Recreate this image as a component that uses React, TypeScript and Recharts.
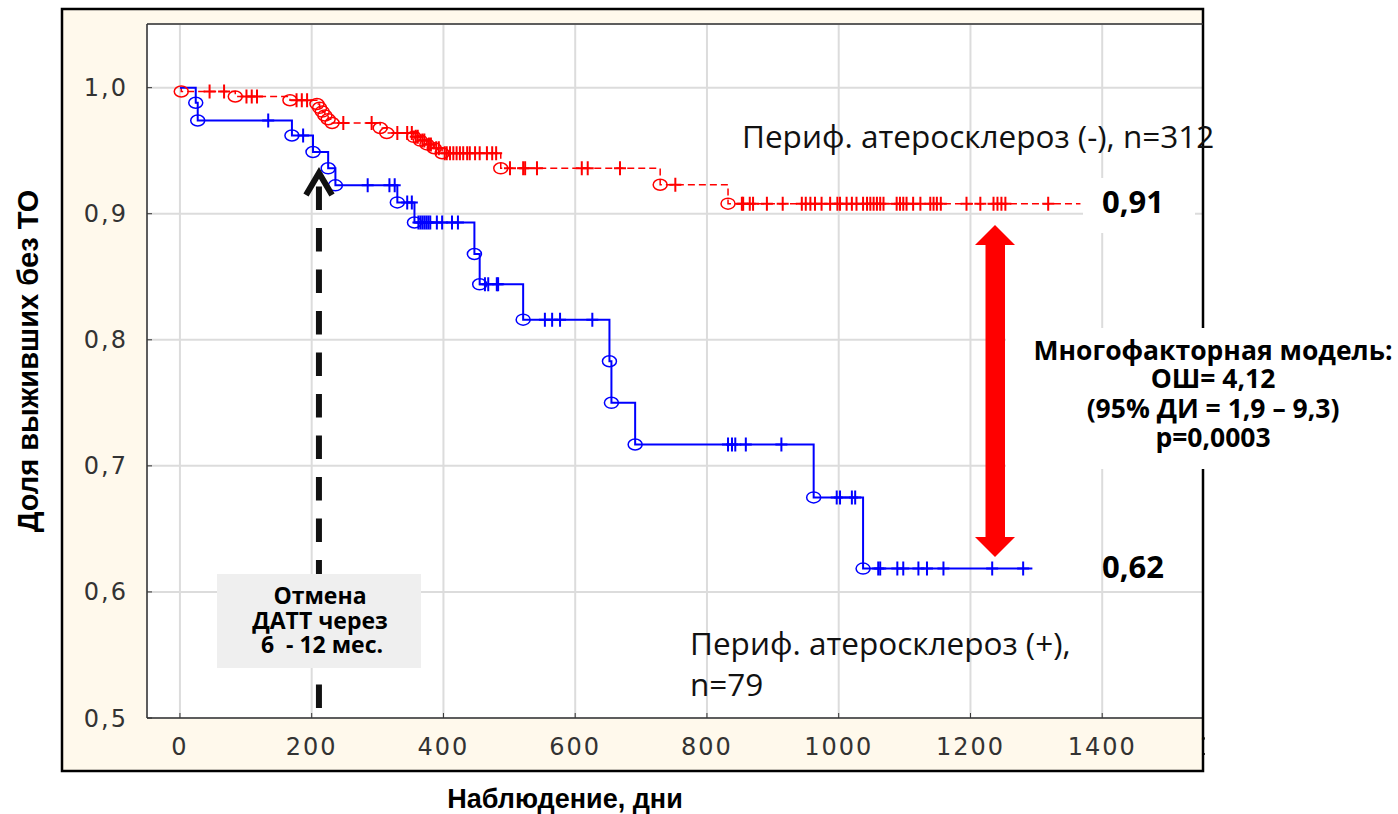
import { ComposedChart, Line, Scatter, XAxis, YAxis, CartesianGrid, ReferenceLine } from 'recharts'

const xTicks = [0, 200, 400, 600, 800, 1000, 1200, 1400, 1600]
const yTicks = [0.5, 0.6, 0.7, 0.8, 0.9, 1.0]

// Периф. атеросклероз (-), n=312 — events (day, survival after event)
const negEventDays = [2, 84, 167, 208, 212, 216, 220, 225, 231, 304, 314, 355, 365, 375, 386, 398, 487, 729, 832]
const negEventSurv = [0.997, 0.993, 0.99, 0.987, 0.984, 0.981, 0.978, 0.975, 0.972, 0.968, 0.964, 0.961, 0.958, 0.955, 0.952, 0.948, 0.936, 0.923, 0.908]
const negCensorDays = [
  45, 67, 101, 109, 117, 177, 185, 193, 248, 291, 330, 345, 352, 358, 361, 368, 371, 378, 381, 389, 393, 402, 405,
  410, 415, 420, 425, 430, 436, 440, 448, 455, 466, 474, 480, 501, 521, 524, 542, 610, 619, 668, 752, 853, 855, 865,
  870, 891, 915, 944, 950, 957, 964, 974, 987, 998, 1002, 1012, 1020, 1027, 1037, 1043, 1048, 1053, 1058, 1063,
  1068, 1088, 1093, 1098, 1103, 1113, 1124, 1139, 1144, 1149, 1155, 1194, 1215, 1235, 1241, 1247, 1253, 1318,
]
const negLastDay = 1367

// Периф. атеросклероз (+), n=79
const posEventDays = [24, 27, 170, 202, 225, 236, 330, 356, 447, 455, 521, 652, 655, 691, 962, 1037]
const posEventSurv = [0.988, 0.974, 0.962, 0.949, 0.936, 0.9225, 0.909, 0.893, 0.868, 0.844, 0.816, 0.783, 0.75, 0.717, 0.675, 0.6185]
const posCensorDays = [
  134, 187, 285, 318, 326, 345, 352, 362, 365, 368, 371, 374, 377, 380, 390, 398, 413, 422, 463, 468, 481, 483, 554,
  565, 577, 626, 832, 838, 843, 859, 913, 997, 1002, 1020, 1025, 1060, 1063, 1089, 1098, 1121, 1134, 1159, 1233, 1280,
]
const posLastDay = 1294

const RED = '#ff0000'
const BLUE = '#0000ff'

function survAt(days: number[], surv: number[], t: number) {
  let s = 1
  days.forEach((d, i) => {
    if (d <= t) s = surv[i]
  })
  return s
}

function steps(days: number[], surv: number[], last: number) {
  return [{ d: 0, s: 1 }, ...days.map((d, i) => ({ d, s: surv[i] })), { d: last, s: surv[surv.length - 1] }]
}

const negSteps = steps(negEventDays, negEventSurv, negLastDay)
const posSteps = steps(posEventDays, posEventSurv, posLastDay)
const negEvents = negEventDays.map((d, i) => ({ d, s: negEventSurv[i] }))
const posEvents = posEventDays.map((d, i) => ({ d, s: posEventSurv[i] }))
const negCensored = negCensorDays.map((d) => ({ d, s: survAt(negEventDays, negEventSurv, d) }))
const posCensored = posCensorDays.map((d) => ({ d, s: survAt(posEventDays, posEventSurv, d) }))

const ring = (color: string) => (p: any) => (
  <ellipse cx={p.cx} cy={p.cy} rx={7} ry={5.5} fill="none" stroke={color} strokeWidth={1.5} />
)
const plus = (color: string) => (p: any) => (
  <path
    d={`M${p.cx},${p.cy - 7}V${p.cy + 7}M${p.cx - 6},${p.cy}H${p.cx + 6}`}
    stroke={color}
    strokeWidth={2}
    fill="none"
  />
)

const fmtY = (v: number) => v.toFixed(1).replace('.', ',')
const tickStyle = { fontFamily: 'DejaVu Sans', fontSize: 24, fill: '#333', letterSpacing: 2 }
const ann = 'Open Sans'

export default function App() {
  return (
    <div style={{ position: 'absolute', left: 0, top: 0, width: 1398, height: 814, background: '#fff' }}>
      <div
        style={{ position: 'absolute', left: 62, top: 9, width: 1141, height: 762, background: '#fff9ec' }}
      />
      <div style={{ position: 'absolute', left: 0, top: 0 }}>
        <ComposedChart width={1398} height={814} margin={{ top: 24, right: 195, bottom: 56, left: 67 }}>
          <CartesianGrid stroke="#dcdcdc" strokeWidth={2} fill="#fff" />
          <XAxis
            type="number"
            dataKey="d"
            domain={[-50, 1553]}
            ticks={xTicks}
            interval={0}
            allowDataOverflow
            height={40}
            tick={tickStyle}
            tickSize={-5}
            tickMargin={25}
            tickLine={{ stroke: '#333' }}
            axisLine={{ stroke: '#333', strokeWidth: 1.5 }}
          />
          <YAxis
            type="number"
            dataKey="s"
            domain={[0.5, 1.0505]}
            ticks={yTicks}
            interval={0}
            allowDataOverflow
            width={80}
            tick={tickStyle}
            tickFormatter={fmtY}
            tickSize={-5}
            tickMargin={24}
            tickLine={{ stroke: '#333' }}
            axisLine={{ stroke: '#333', strokeWidth: 1.5 }}
          />
          <ReferenceLine
            segment={[
              { x: 211, y: 0.9216 },
              { x: 211, y: 0.5 },
            ]}
            stroke="#111"
            strokeWidth={6}
            strokeDasharray="23.5 18"
          />
          <Line
            data={negSteps}
            dataKey="s"
            type="stepAfter"
            stroke={RED}
            strokeWidth={1.5}
            strokeDasharray="7 4"
            dot={false}
            isAnimationActive={false}
          />
          <Line
            data={posSteps}
            dataKey="s"
            type="stepAfter"
            stroke={BLUE}
            strokeWidth={2}
            dot={false}
            isAnimationActive={false}
          />
          <Scatter data={negEvents} shape={ring(RED)} isAnimationActive={false} />
          <Scatter data={negCensored} shape={plus(RED)} isAnimationActive={false} />
          <Scatter data={posEvents} shape={ring(BLUE)} isAnimationActive={false} />
          <Scatter data={posCensored} shape={plus(BLUE)} isAnimationActive={false} />
        </ComposedChart>
      </div>
      <svg
        width={1398}
        height={814}
        style={{ position: 'absolute', left: 0, top: 0, pointerEvents: 'none' }}
      >
        <rect x={1205} y={0} width={193} height={814} fill="#fff" />
        <rect x={62} y={9} width={1141} height={762} fill="none" stroke="#000" strokeWidth={2.5} />
        <line x1={147} y1={24} x2={1203} y2={24} stroke="#333" strokeWidth={1.5} />

        {/* dashed arrow head */}
        <polyline points="306,195 319,173 332,195" fill="none" stroke="#111" strokeWidth={6} />

        <rect x={217} y={574} width={204} height={94} fill="#efefef" />
        <g fontFamily={ann} fontWeight={700} fontSize={23} fill="#000" textAnchor="middle">
          <text x={320} y={604}>Отмена</text>
          <text x={320} y={629}>ДАТТ через</text>
          <text x={322} y={653} style={{ whiteSpace: 'pre' }}>
            6  - 12 мес.
          </text>
        </g>

        <rect x={1083} y={178} width={112} height={55} fill="#fff" />
        <text x={1102} y={213} fontFamily={ann} fontWeight={700} fontSize={31} fill="#000">
          0,91
        </text>
        <text x={1102} y={578} fontFamily={ann} fontWeight={700} fontSize={31} fill="#000">
          0,62
        </text>

        <polygon
          points="995,225 1015,245 1005,245 1005,537 1015,537 995,557 975,537 985.5,537 985.5,245 975,245"
          fill={RED}
        />

        <rect x={1006} y={328} width={392} height={141} fill="#fff" />
        <g fontFamily={ann} fontWeight={700} fontSize={26.5} fill="#000" textAnchor="middle">
          <text x={1213} y={360}>Многофакторная модель:</text>
          <text x={1213} y={388}>ОШ= 4,12</text>
          <text x={1213} y={418}>(95% ДИ = 1,9 – 9,3)</text>
          <text x={1213} y={447}>p=0,0003</text>
        </g>

        <g fontFamily={ann} fontSize={31.5} fill="#111">
          <text x={742} y={148}>Периф. атеросклероз (-), n=312</text>
          <text x={690} y={655}>Периф. атеросклероз (+),</text>
          <text x={690} y={696}>n=79</text>
        </g>

        <text
          transform="translate(38,361) rotate(-90)"
          textAnchor="middle"
          fontFamily="Liberation Sans"
          fontWeight={700}
          fontSize={29}
          fill="#000"
        >
          Доля выживших без ТО
        </text>
        <text
          x={565}
          y={808}
          textAnchor="middle"
          fontFamily="Liberation Sans"
          fontWeight={700}
          fontSize={27}
          fill="#000"
        >
          Наблюдение, дни
        </text>
      </svg>
    </div>
  )
}
